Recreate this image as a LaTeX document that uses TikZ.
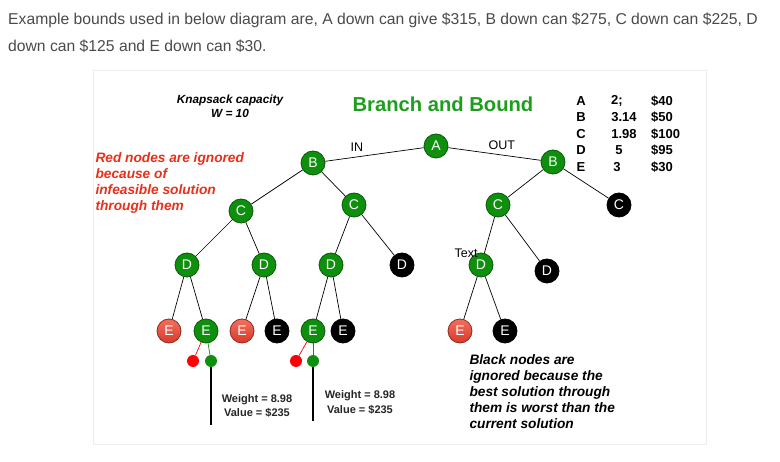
\documentclass[tikz,border=0pt]{standalone}
\usepackage{fontspec}
\setmainfont{Liberation Sans}
\definecolor{gfill}{HTML}{0E8F0E}
\definecolor{gdraw}{HTML}{0A5A0A}
\definecolor{rtop}{HTML}{F2705E}
\definecolor{rbot}{HTML}{D8392A}
\definecolor{rdraw}{HTML}{8A2A20}
\definecolor{ttl}{HTML}{1E9E1E}
\definecolor{rnote}{HTML}{E8301A}
\definecolor{head}{HTML}{4A4A4A}
\begin{document}
\begin{tikzpicture}[x=1pt,y=-1pt,
  nd/.style={circle,minimum size=24pt,inner sep=0pt,text=white,line width=0.8pt,
    font=\fontsize{14}{14}\selectfont},
  ok/.style={nd,fill=gfill,draw=gdraw},
  bad/.style={nd,top color=rtop,bottom color=rbot,draw=rdraw},
  cut/.style={nd,fill=black,draw=black},
  dot/.style={circle,minimum size=12pt,inner sep=0pt},
  edge/.style={line width=0.7pt},
  note/.style={font=\bfseries\itshape\fontsize{13.7}{16}\selectfont,align=left,anchor=north west},
  cell/.style={font=\bfseries\fontsize{13}{13}\selectfont,inner sep=0pt}]
  \useasboundingbox (0,0) rectangle (780,462);
  \draw[draw=black!7,fill=white] (93,70) rectangle (706,444);

  \node[head,anchor=base west,inner sep=0pt,font=\fontsize{15.7}{15.7}\selectfont] (head1) at (8,25)
    {Example bounds used in below diagram are, A down can give \$315, B down can \$275, C down can \$225, D};
  \node[head,anchor=base west,inner sep=0pt,font=\fontsize{15.7}{15.7}\selectfont] (head2) at (8,52)
    {down can \$125 and E down can \$30.};

  \node[font=\bfseries\fontsize{20.2}{20.2}\selectfont,text=ttl] (title) at (443,104) {Branch and Bound};
  \node[font=\bfseries\itshape\fontsize{11.8}{14}\selectfont,align=center] (cap) at (230,106)
    {Knapsack capacity\\W = 10};

  \foreach \l/\w/\wx/\v [count=\i] in {A/{2;}/617/\$40,B/3.14/624/\$50,C/1.98/624/\$100,D/5/619/\$95,E/3/617/\$30}{
    \node[cell] (let\i) at (581,{100.7+16.6*(\i-1)}) {\l};
    \node[cell] (wt\i) at (\wx,{100.7+16.6*(\i-1)}) {\w};
    \node[cell,anchor=west] (val\i) at (651,{100.7+16.6*(\i-1)}) {\v};
  }

  \node[note,text=rnote] (rednote) at (92,149)
    {Red nodes are ignored\\because of\\infeasible solution\\through them};
  \node[note] (blacknote) at (466,351)
    {Black nodes are\\ignored because the\\best solution through\\them is worst than the\\current solution};

  \node[ok] (A) at (436,146) {A};
  \node[ok] (B1) at (313,163) {B};
  \node[ok] (B2) at (553,162) {B};
  \node[ok] (C1) at (241,211) {C};
  \node[ok] (C2) at (354,205) {C};
  \node[ok] (C3) at (498,205) {C};
  \node[cut] (C4) at (619,205) {C};
  \node[ok] (D1) at (187,265) {D};
  \node[ok] (D2) at (264,265) {D};
  \node[ok] (D3) at (331,265) {D};
  \node[cut] (D4) at (402,265) {D};
  \node[ok] (D5) at (481,265) {D};
  \node[cut] (D6) at (547,271) {D};
  \node[bad] (E1) at (169,331) {E};
  \node[ok] (E2) at (206,331) {E};
  \node[bad] (E3) at (242,331) {E};
  \node[cut] (E4) at (277,331) {E};
  \node[ok] (E5) at (313,331) {E};
  \node[cut] (E6) at (343,331) {E};
  \node[bad] (E7) at (460,331) {E};
  \node[cut] (E8) at (505,331) {E};
  \node[font=\fontsize{12.5}{12.5}\selectfont,inner sep=0pt] (txt) at (466,253) {Text};

  \node[dot,fill=red] (r1) at (193,361) {};
  \node[dot,fill=gfill] (g1) at (211,361) {};
  \node[dot,fill=red] (r2) at (296,361) {};
  \node[dot,fill=gfill] (g2) at (313,361) {};
  \coordinate (end1) at (211,425);
  \coordinate (end2) at (313,421);

  \draw[edge] (A) -- node[pos=0.68,above=2pt,font=\fontsize{12.5}{12.5}\selectfont] {IN} (B1);
  \draw[edge] (A) -- node[pos=0.58,above=2pt,font=\fontsize{12.5}{12.5}\selectfont] {OUT} (B2);
  \draw[edge] (B1) -- (C1);
  \draw[edge] (B1) -- (C2);
  \draw[edge] (B2) -- (C3);
  \draw[edge] (B2) -- (C4);
  \draw[edge] (C1) -- (D1);
  \draw[edge] (C1) -- (D2);
  \draw[edge] (C2) -- (D3);
  \draw[edge] (C2) -- (D4);
  \draw[edge] (C3) -- (D5);
  \draw[edge] (C3) -- (D6);
  \draw[edge] (D1) -- (E1);
  \draw[edge] (D1) -- (E2);
  \draw[edge] (D2) -- (E3);
  \draw[edge] (D2) -- (E4);
  \draw[edge] (D3) -- (E5);
  \draw[edge] (D3) -- (E6);
  \draw[edge] (D5) -- (E7);
  \draw[edge] (D5) -- (E8);
  \draw[edge,red] (E2) -- (r1);
  \draw[edge,gfill] (E2) -- (g1);
  \draw[edge,red] (E5) -- (r2);
  \draw[edge,gfill] (E5) -- (g2);
  \draw[line width=1.1pt] (g1) -- (end1);
  \draw[line width=1.1pt] (g2) -- (end2);

  \node[font=\bfseries\fontsize{11}{14}\selectfont,align=center,text=black!85] (res1) at (257,406)
    {Weight = 8.98\\Value = \$235};
  \node[font=\bfseries\fontsize{11}{15}\selectfont,align=center,text=black!85] (res2) at (360,402)
    {Weight = 8.98\\Value = \$235};
\end{tikzpicture}
\end{document}
